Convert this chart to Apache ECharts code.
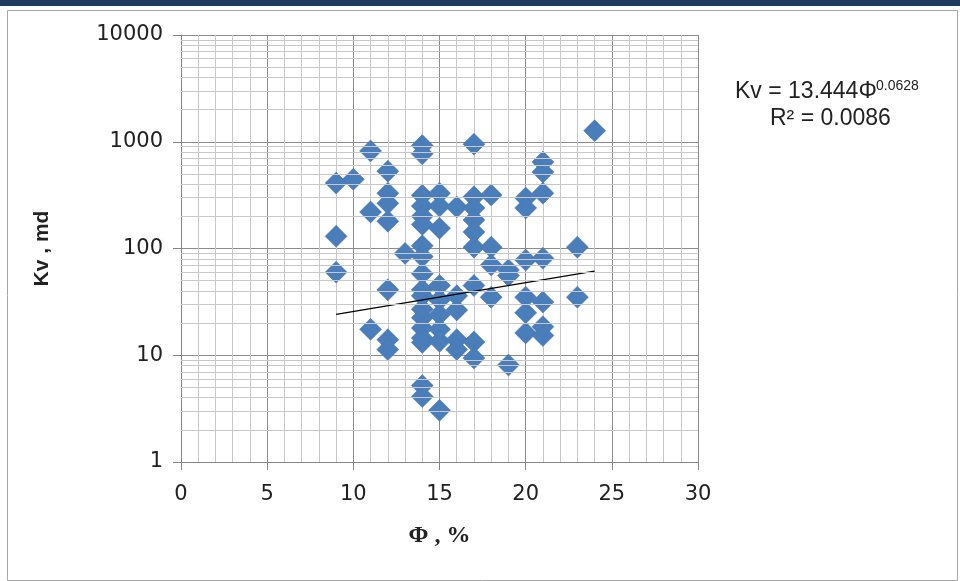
<!DOCTYPE html>
<html><head><meta charset="utf-8">
<script src="https://cdn.jsdelivr.net/npm/echarts@6/dist/echarts.min.js"></script>
<style>html,body{margin:0;padding:0;background:#fff}#c{width:960px;height:581px}</style>
</head><body><div id="c"></div>
<script>
// Porosity (Φ, %) of each sample
const phiValues = [
  9,9,9,
  10,
  11,11,11,
  12,12,12,12,12,12,12,
  13,
  14,14,14,14,14,14,14,14,14,14,14,14,14,14,14,14,14,14,
  15,15,15,15,15,15,15,15,15,
  16,16,16,16,16,
  17,17,17,17,17,17,17,17,17,
  18,18,18,18,
  19,19,19,
  20,20,20,20,20,20,
  21,21,21,21,21,21,21,
  23,23,
  24
];
// Vertical permeability (Kv, md) of each sample
const kvValues = [
  410,130,60,
  445,
  820,220,17.5,
  530,330,265,180,41,14,11.3,
  90,
  920,770,315,250,200,168,106,84,58,41,36,27,22.5,18,14.5,13.2,5.2,4.1,
  330,250,155,45,33,24,17.5,13.5,3.05,
  245,36,26.5,14,11.3,
  950,305,240,185,143,103,45,13.3,9.4,
  317,103,70,35,
  63,56,8.1,
  297,240,78,35,25,16.2,
  645,520,330,81,31.5,18.5,15.3,
  103,35,
  1270
];
// Trendline end points
const trendPhi = [9, 24];
const trendKv = [24.2, 61.5];
// Axis ranges and ticks
const xTicks = [0, 5, 10, 15, 20, 25, 30];
const yTicks = [1, 10, 100, 1000, 10000];
const minorLogSteps = [2, 3, 4, 5, 6, 7, 8, 9];

const scatterData = phiValues.map((p, i) => [p, kvValues[i]]);
const trendData = trendPhi.map((p, i) => [p, trendKv[i]]);
const minorGrid = [];
yTicks.slice(0, -1).forEach(d => minorLogSteps.forEach(s => minorGrid.push({ yAxis: d * s })));

const chart = echarts.init(document.getElementById('c'), null, { renderer: 'canvas' });
chart.setOption({
  animation: false,
  backgroundColor: '#fff',
  grid: { left: 181, right: 262, top: 35, bottom: 119 },
  xAxis: {
    type: 'value', min: xTicks[0], max: xTicks[xTicks.length - 1], interval: 5,
    axisLine: { show: true, onZero: false, lineStyle: { color: '#868686', width: 1 } },
    axisTick: { show: true, length: 8, lineStyle: { color: '#868686' } },
    axisLabel: { fontSize: 21, fontFamily: 'DejaVu Sans', color: '#222', margin: 22 },
    splitLine: { show: true, lineStyle: { color: '#8c8c8c', width: 1 } },
    minorTick: { show: false, splitNumber: 5 },
    minorSplitLine: { show: true, lineStyle: { color: '#c8c8c8', width: 1 } },
    name: 'Φ , %', nameLocation: 'middle', nameGap: 62,
    nameTextStyle: { fontFamily: 'Liberation Serif', fontWeight: 'bold', fontSize: 24, color: '#222' }
  },
  yAxis: {
    type: 'log', logBase: 10, min: yTicks[0], max: yTicks[yTicks.length - 1],
    axisLine: { show: true, onZero: false, lineStyle: { color: '#868686', width: 1 } },
    axisTick: { show: true, length: 8, lineStyle: { color: '#868686' } },
    axisLabel: { fontSize: 21, fontFamily: 'DejaVu Sans', color: '#222', margin: 18,
      formatter: v => String(Math.round(v)) },
    splitLine: { show: true, lineStyle: { color: '#8c8c8c', width: 1 } },
    name: 'Kv , md', nameLocation: 'middle', nameGap: 128, nameRotate: 90,
    nameTextStyle: { fontFamily: 'Liberation Sans', fontWeight: 'bold', fontSize: 21, color: '#222' }
  },
  series: [
    {
      type: 'line', data: [], z: 1, silent: true,
      markLine: {
        silent: true, symbol: 'none', animation: false,
        label: { show: false },
        lineStyle: { color: '#c8c8c8', width: 1, type: 'solid' },
        emphasis: { disabled: true },
        data: minorGrid
      }
    },
    {
      type: 'scatter', data: scatterData, z: 3,
      symbol: 'diamond', symbolSize: 22,
      itemStyle: { color: '#4a7ebb', opacity: 1, borderColor: '#4575b0', borderWidth: 0.5 },
      emphasis: { disabled: true }
    },
    {
      type: 'line', data: trendData, z: 4, symbol: 'none', silent: true,
      lineStyle: { color: '#000', width: 1.3 }
    }
  ],
  graphic: [
    { type: 'rect', left: 0, top: 0, shape: { width: 960, height: 6 }, style: { fill: '#1b3a5e' }, silent: true },
    { type: 'rect', left: 5, top: 8, shape: { width: 950, height: 570 }, style: { fill: 'none', stroke: '#a6a6a6', lineWidth: 1 }, silent: true },
    { type: 'text', left: 735, top: 80, style: { text: 'Kv = 13.444Φ', font: '23px "Liberation Sans"', fill: '#222' } },
    { type: 'text', left: 876, top: 79, style: { text: '0.0628', font: '14px "Liberation Sans"', fill: '#222' } },
    { type: 'text', left: 770, top: 107, style: { text: 'R² = 0.0086', font: '23px "Liberation Sans"', fill: '#222' } }
  ]
});
</script>
</body></html>
